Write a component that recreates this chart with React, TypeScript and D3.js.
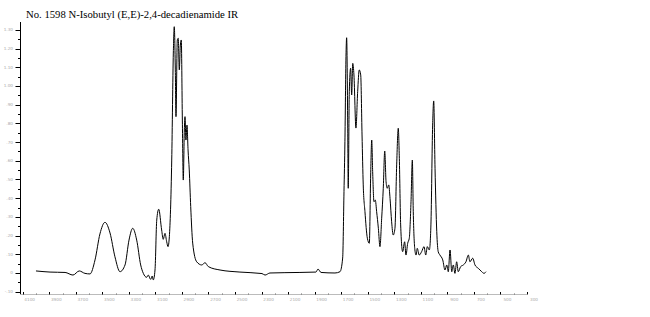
import React from "react";
import * as d3 from "d3";

const TITLE = "No. 1598 N-Isobutyl (E,E)-2,4-decadienamide IR";

// wavenumber (cm-1)
const wavenumber = [
  4000, 3894, 3781, 3721, 3674, 3631, 3593, 3555, 3518, 3480, 3442, 3405, 3367, 3329, 3299, 3271,
  3241, 3211, 3191, 3166, 3154, 3136, 3124, 3116, 3103, 3090, 3075, 3053, 3041, 3028, 3015, 3005,
  2995, 2977, 2965, 2958, 2950, 2945, 2935, 2928, 2920, 2912, 2905, 2897, 2890, 2882, 2877, 2870,
  2862, 2854, 2845, 2834, 2819, 2789, 2751, 2726, 2701, 2613, 2463, 2297, 2274, 2237, 2011, 1890,
  1875, 1852, 1747, 1709, 1689, 1679, 1672, 1664, 1659, 1651, 1647, 1639, 1629, 1621, 1613, 1604,
  1589, 1576, 1564, 1553, 1543, 1534, 1521, 1503, 1488, 1478, 1470, 1463, 1453, 1443, 1433, 1420,
  1408, 1395, 1383, 1372, 1362, 1353, 1342, 1332, 1320, 1308, 1295, 1282, 1270, 1262, 1252, 1237,
  1222, 1212, 1199, 1187, 1174, 1164, 1157, 1146, 1136, 1127, 1112, 1094, 1076, 1063, 1051, 1036,
  1024, 1011, 1003, 993, 980, 969, 956, 935, 918, 905, 893, 880, 867, 855, 843, 830,
  818, 800, 780, 760, 742, 730, 709, 692, 667, 641, 624, 609,
];

// absorbance
const absorbance = [
  0.011, 0.005, 0.003, -0.011, 0.011, -0.002, -0.005, 0.07, 0.209, 0.271, 0.214, 0.087, 0.007, 0.043, 0.176, 0.239,
  0.176, 0.043, -0.002, -0.023, -0.011, -0.034, -0.016, -0.037, 0.016, 0.283, 0.341, 0.23, 0.18, 0.212, 0.167, 0.141,
  0.194, 0.604, 1.176, 1.317, 1.086, 0.836, 1.246, 1.255, 1.086, 1.219, 1.246, 0.818, 0.497, 0.765, 0.836, 0.711,
  0.791, 0.658, 0.551, 0.355, 0.16, 0.06, 0.043, 0.055, 0.034, 0.016, 0.005, -0.003, -0.011, 0.0, 0.003, 0.005,
  0.021, 0.003, 0.0, 0.007, 0.08, 0.435, 0.702, 1.157, 1.258, 0.791, 0.453, 0.97, 1.095, 0.952, 1.121, 1.059,
  0.775, 0.97, 1.086, 1.059, 0.738, 0.471, 0.328, 0.186, 0.159, 0.524, 0.711, 0.542, 0.381, 0.39, 0.328, 0.239,
  0.141, 0.293, 0.453, 0.652, 0.488, 0.453, 0.471, 0.399, 0.274, 0.203, 0.239, 0.578, 0.774, 0.613, 0.257, 0.114,
  0.167, 0.096, 0.159, 0.186, 0.381, 0.604, 0.328, 0.132, 0.096, 0.132, 0.096, 0.114, 0.141, 0.096, 0.141, 0.123,
  0.257, 0.791, 0.92, 0.56, 0.221, 0.114, 0.096, 0.07, 0.016, 0.043, 0.007, 0.123, 0.007, 0.043, -0.002, 0.06,
  0.007, 0.034, 0.043, 0.06, 0.096, 0.06, 0.079, 0.043, 0.025, 0.007, -0.002, 0.007,
];

const xTicks = d3.range(4100, 299, -200);
const xMinorTicks = d3.range(4000, 299, -200);
const yTicks = d3.range(-0.1, 1.31, 0.1).map((v) => Math.round(v * 10) / 10);
const yMinorTicks = d3.range(-0.05, 1.34, 0.1).map((v) => Math.round(v * 100) / 100);

export default function App() {
  const W = 650;
  const H = 317;
  const x = d3.scaleLinear().domain([4100, 300]).range([22.7, 527]);
  const y = d3.scaleLinear().domain([-0.1, 1.34]).range([291.7, 22.4]);
  const pts: [number, number][] = wavenumber.map((w, i) => [w, absorbance[i]]);
  const line = d3
    .line<[number, number]>()
    .x((d) => x(d[0]))
    .y((d) => y(d[1]))
    .curve(d3.curveMonotoneX);
  const axisX = 20.5;
  const axisY = 294.5;
  return (
    <svg
      width={W}
      height={H}
      style={{ position: "absolute", left: 0, top: 0, background: "#fff" }}
    >
      <text
        x={26}
        y={18}
        fontFamily="'Liberation Serif', 'Times New Roman', serif"
        fontSize={10.7}
        fill="#000"
      >
        {TITLE}
      </text>
      {/* y axis */}
      <line x1={axisX} x2={axisX} y1={22} y2={294} stroke="#000" strokeWidth={1} />
      {yTicks.map((t) => (
        <g key={"yt" + t}>
          <line x1={axisX - 5} x2={axisX} y1={Math.round(y(t)) + 0.5} y2={Math.round(y(t)) + 0.5} stroke="#000" />
          <text
            x={13}
            y={y(t) + 1.5}
            textAnchor="end"
            fontFamily="'DejaVu Sans', sans-serif"
            fontSize={4.2}
            fill="#aaa"
          >
            {t.toFixed(t === 0 ? 0 : 2).replace(/^(-?)0\./, "$1.")}
          </text>
        </g>
      ))}
      {yMinorTicks.map((t) => (
        <line
          key={"ym" + t}
          x1={axisX - 2.5}
          x2={axisX}
          y1={Math.round(y(t)) + 0.5}
          y2={Math.round(y(t)) + 0.5}
          stroke="#000"
        />
      ))}
      {/* x axis */}
      <line x1={20} x2={527} y1={axisY} y2={axisY} stroke="#bbb" strokeWidth={1} />
      {xTicks.map((t) => (
        <g key={"xt" + t}>
          <line
            x1={Math.round(x(t)) + 0.5}
            x2={Math.round(x(t)) + 0.5}
            y1={axisY - 2.5}
            y2={axisY}
            stroke="#000"
          />
          <text
            x={x(t) + 7}
            y={axisY + 6}
            textAnchor="middle"
            fontFamily="'DejaVu Sans', sans-serif"
            fontSize={4.2}
            fill="#aaa"
          >
            {t}
          </text>
        </g>
      ))}
      {xMinorTicks.map((t) => (
        <line
          key={"xm" + t}
          x1={Math.round(x(t)) + 0.5}
          x2={Math.round(x(t)) + 0.5}
          y1={axisY - 1}
          y2={axisY}
          stroke="#666"
        />
      ))}
      <path d={line(pts) || ""} fill="none" stroke="#000" strokeWidth={1} />
    </svg>
  );
}
